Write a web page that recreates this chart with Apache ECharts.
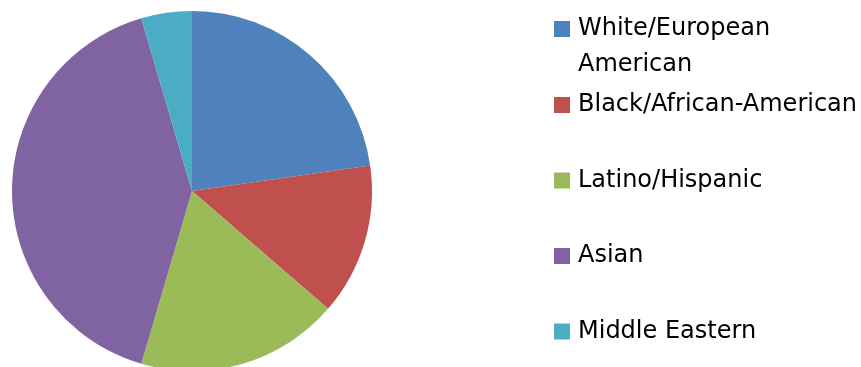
<!DOCTYPE html>
<html>
<head>
<meta charset="utf-8">
<script src="https://cdn.jsdelivr.net/npm/echarts@6/dist/echarts.min.js"></script>
<style>
  html, body { margin: 0; padding: 0; background: #fff; }
  #chart { width: 861px; height: 367px; }
</style>
</head>
<body>
<div id="chart"></div>
<script>
// Survey respondents by ethnic background
const categories = [
  'White/European American',
  'Black/African-American',
  'Latino/Hispanic',
  'Asian',
  'Middle Eastern'
];
const counts = [10, 6, 8, 18, 2];
const colors = ['#4F81BD', '#C0504D', '#9BBB59', '#8064A2', '#4BACC6'];

// Vertical centre of each legend swatch (px)
const legendCenters = [29, 105, 180.5, 256, 331.5];
const LINE = 36;

// The long first label wraps onto a second line; a blank leading line keeps
// its first line level with the swatch (legend text is centred on the icon).
const legendText = {
  'White/European American': '\nWhite/European\nAmerican'
};

const chart = echarts.init(document.getElementById('chart'), null, { renderer: 'canvas' });

const legends = categories.map((name, i) => {
  const lines = (legendText[name] || name).split('\n').length;
  return {
    data: [name],
    orient: 'vertical',
    left: 554,
    top: legendCenters[i] - (LINE * lines) / 2,
    padding: 0,
    itemWidth: 16,
    itemHeight: 16,
    icon: 'rect',
    selectedMode: false,
    formatter: n => legendText[n] || n,
    textStyle: {
      fontFamily: 'DejaVu Sans',
      fontSize: 24,
      color: '#000',
      lineHeight: LINE,
      padding: [0, 0, 0, 3]
    }
  };
});

chart.setOption({
  animation: false,
  color: colors,
  legend: legends,
  series: [{
    type: 'pie',
    center: [192, 191],
    radius: 180,
    startAngle: 90,
    clockwise: true,
    label: { show: false },
    labelLine: { show: false },
    itemStyle: { borderWidth: 0 },
    emphasis: { disabled: true },
    data: categories.map((name, i) => ({ name, value: counts[i] }))
  }]
});
</script>
</body>
</html>
